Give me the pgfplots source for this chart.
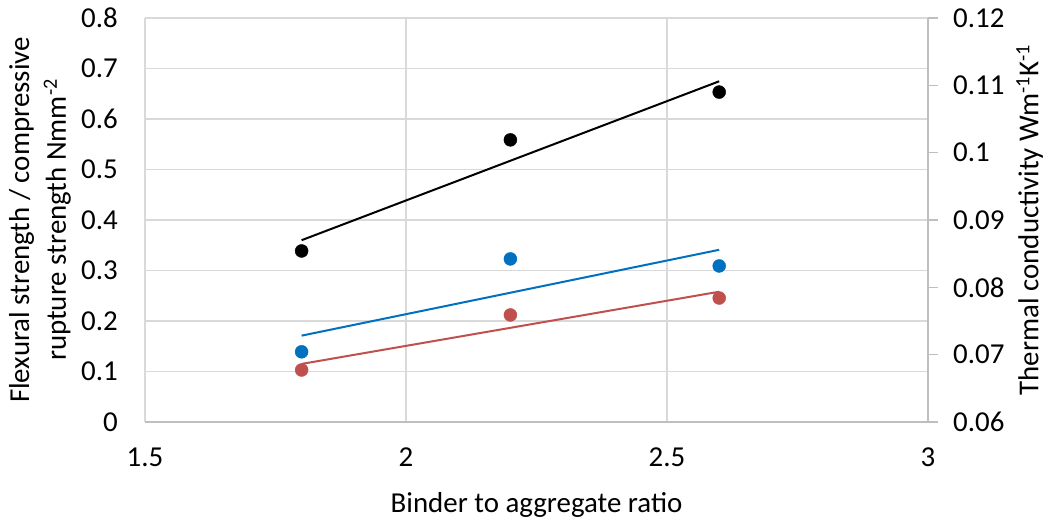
\documentclass[border=0pt]{standalone}
\usepackage{fontspec}
\setmainfont{Carlito}
\usepackage{pgfplots}
\pgfplotsset{compat=1.18}
\definecolor{gridc}{RGB}{217,217,217}
\definecolor{axc}{RGB}{191,191,191}
\definecolor{cblue}{RGB}{0,112,192}
\definecolor{cred}{RGB}{192,80,77}
\begin{document}
\begin{tikzpicture}
\useasboundingbox (0,0) rectangle (1048bp,520bp);
\pgfplotsset{
  every axis/.append style={
    scale only axis, width=783bp, height=404bp,
    xmin=1.5, xmax=3,
    font=\fontsize{29}{37}\selectfont,
    /pgf/number format/assume math mode=true,
    /pgf/number format/fixed,
    /pgf/number format/precision=2,
  }
}
\begin{axis}[
  at={(145bp,98bp)}, anchor=origin,
  ymin=0, ymax=0.8,
  xtick={1.5,2,2.5,3},
  ytick={0,0.1,0.2,0.3,0.4,0.5,0.6,0.7,0.8},
  grid=major, major grid style={draw=gridc, line width=1.2pt},
  axis line style={draw=none},
  major tick length=0pt,
  xticklabel style={anchor=center, inner sep=0pt, yshift=-35.5bp},
  yticklabel style={anchor=east, inner sep=0pt, xshift=-27bp},
  xlabel={Binder to aggregate ratio},
  xlabel style={at={(axis description cs:0.5,-0.2228)}, anchor=base, inner sep=0pt},
  ylabel={Flexural strength / compressive\\rupture strength Nmm\textsuperscript{-2}},
  ylabel style={align=center, at={(axis description cs:-0.1009,0.5)}, anchor=base, inner sep=0pt},
  clip=false,
]
\draw[axc, line width=1.2pt] (axis cs:1.5,0) -- (axis cs:3,0);
% blue series
\addplot[only marks, mark=*, mark size=6.5bp, cblue, mark options={draw=cblue, fill=cblue}]
  coordinates {(1.8,0.139) (2.2,0.323) (2.6,0.309)};
\addplot[cblue, line width=2bp, no marks] coordinates {(1.8,0.171) (2.6,0.341)};
% red series
\addplot[only marks, mark=*, mark size=6.5bp, cred, mark options={draw=cred, fill=cred}]
  coordinates {(1.8,0.103) (2.2,0.212) (2.6,0.2455)};
\addplot[cred, line width=2bp, no marks] coordinates {(1.8,0.115) (2.6,0.258)};
\end{axis}
\begin{axis}[
  at={(145bp,98bp)}, anchor=origin,
  ymin=0.06, ymax=0.12,
  axis x line=none,
  axis y line*=right,
  axis line style={draw=axc, line width=1.2pt},
  ytick={0.06,0.07,0.08,0.09,0.1,0.11,0.12},
  tick align=outside,
  major tick length=10bp,
  tick style={draw=axc, line width=1.2pt},
  yticklabel style={anchor=west, inner sep=0pt, xshift=15bp},
  ylabel={Thermal conductivity Wm\textsuperscript{-1}K\textsuperscript{-1}},
  ylabel style={at={(axis description cs:1.141,0.5)}, anchor=base, inner sep=0pt},
  clip=false,
]
\addplot[only marks, mark=*, mark size=6.5bp, black]
  coordinates {(1.8,0.0854) (2.2,0.1019) (2.6,0.109)};
\addplot[black, line width=2bp, no marks] coordinates {(1.8,0.0870) (2.6,0.1106)};
\end{axis}
\end{tikzpicture}
\end{document}
